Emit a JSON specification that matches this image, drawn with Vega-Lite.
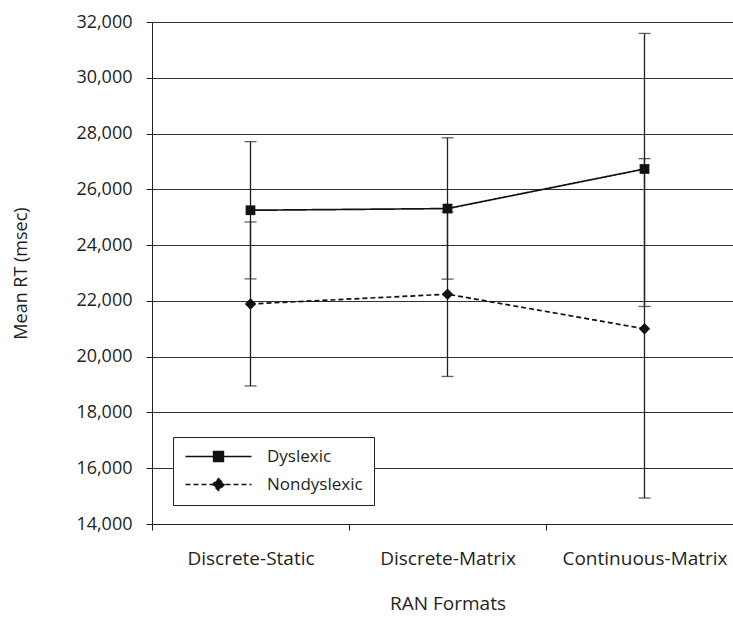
{
  "$schema": "https://vega.github.io/schema/vega-lite/v6.json",
  "autosize": "none",
  "width": 581,
  "height": 502,
  "padding": {"left": 152, "top": 22, "right": 0, "bottom": 93},
  "background": "white",
  "config": {
    "view": {"stroke": null},
    "font": "Open Sans",
    "axis": {"labelFont": "Open Sans", "titleFont": "Open Sans", "labelColor": "#231f20", "titleColor": "#231f20", "titleFontWeight": "normal", "labelFontSize": 18, "titleFontSize": 18}
  },
  "data": {
    "values": [
      {"format": "Discrete-Static", "group": "Dyslexic", "mean": 25250, "lo": 22790, "hi": 27710},
      {"format": "Discrete-Matrix", "group": "Dyslexic", "mean": 25310, "lo": 22780, "hi": 27850},
      {"format": "Continuous-Matrix", "group": "Dyslexic", "mean": 26730, "lo": 21800, "hi": 31590},
      {"format": "Discrete-Static", "group": "Nondyslexic", "mean": 21890, "lo": 18950, "hi": 24830},
      {"format": "Discrete-Matrix", "group": "Nondyslexic", "mean": 22240, "lo": 19290, "hi": 25190},
      {"format": "Continuous-Matrix", "group": "Nondyslexic", "mean": 21000, "lo": 14930, "hi": 27100}
    ]
  },
  "encoding": {
    "x": {
      "field": "format", "type": "nominal", "sort": null,
      "scale": {"range": [0, 591], "paddingInner": 0, "paddingOuter": 0},
      "axis": {"title": "RAN Formats", "labelAngle": 0, "tickBand": "extent", "tickSize": 6, "tickColor": "#231f20", "domainColor": "#231f20", "labelPadding": 19, "labelFontSize": 19, "titleFontSize": 19, "titlePadding": 26, "titleX": 295.5, "grid": false}
    }
  },
  "layer": [
    {
      "mark": {"type": "rule", "color": "#231f20", "strokeWidth": 1.3},
      "encoding": {
        "y": {"field": "lo", "type": "quantitative", "scale": {"domain": [14000, 32000], "nice": false, "zero": false},
          "axis": {"title": "Mean RT (msec)", "values": [14000, 16000, 18000, 20000, 22000, 24000, 26000, 28000, 30000, 32000], "format": ",.0f", "grid": true, "gridColor": "#333333", "gridWidth": 1.2, "gridOpacity": 1, "domainColor": "#231f20", "tickColor": "#231f20", "tickSize": 6, "labelPadding": 14, "titlePadding": 45}},
        "y2": {"field": "hi"}
      }
    },
    {
      "mark": {"type": "tick", "color": "#231f20", "size": 12, "thickness": 1.3},
      "encoding": {"y": {"field": "lo", "type": "quantitative"}}
    },
    {
      "mark": {"type": "tick", "color": "#231f20", "size": 12, "thickness": 1.3},
      "encoding": {"y": {"field": "hi", "type": "quantitative"}}
    },
    {
      "mark": {"type": "line", "color": "#111111", "strokeWidth": 1.7},
      "encoding": {
        "y": {"field": "mean", "type": "quantitative"},
        "strokeDash": {
          "field": "group", "type": "nominal",
          "scale": {"domain": ["Dyslexic", "Nondyslexic"], "range": [[1, 0], [5, 3]]}
        }
      }
    },
    {
      "transform": [{"filter": "datum.group === 'Dyslexic'"}],
      "mark": {"type": "point", "filled": true, "color": "#111111", "opacity": 1, "shape": "square", "size": 95},
      "encoding": {"y": {"field": "mean", "type": "quantitative"}}
    },
    {
      "transform": [{"filter": "datum.group === 'Nondyslexic'"}],
      "mark": {"type": "point", "filled": true, "color": "#111111", "opacity": 1, "shape": "diamond", "size": 130},
      "encoding": {"y": {"field": "mean", "type": "quantitative"}}
    },
    {
      "transform": [{"filter": "datum.group === 'none'"}],
      "mark": {"type": "point", "filled": true, "fill": "#111111", "stroke": "#111111", "strokeWidth": 1.4, "opacity": 1},
      "encoding": {
        "y": {"field": "mean", "type": "quantitative"},
        "strokeDash": {"field": "group", "type": "nominal"},
        "shape": {
          "field": "group", "type": "nominal",
          "scale": {"domain": ["Dyslexic", "Nondyslexic"], "range": ["M-1,0H8.43M3,-0.71H4.43V0.71H3Z", "M-1,0H8.43M3.71,-0.86L4.57,0L3.71,0.86L2.86,0Z"]},
          "legend": {
            "title": null, "orient": "none", "legendX": 21, "legendY": 415,
            "fillColor": "white", "strokeColor": "#231f20", "padding": 11,
            "symbolSize": 196, "labelOffset": 66, "labelFontSize": 17, "labelFont": "Open Sans", "labelColor": "#231f20",
            "rowPadding": 10, "symbolStrokeWidth": 1.4, "symbolFillColor": "#111111", "symbolStrokeColor": "#111111", "symbolOpacity": 1
          }
        }
      }
    }
  ]
}
